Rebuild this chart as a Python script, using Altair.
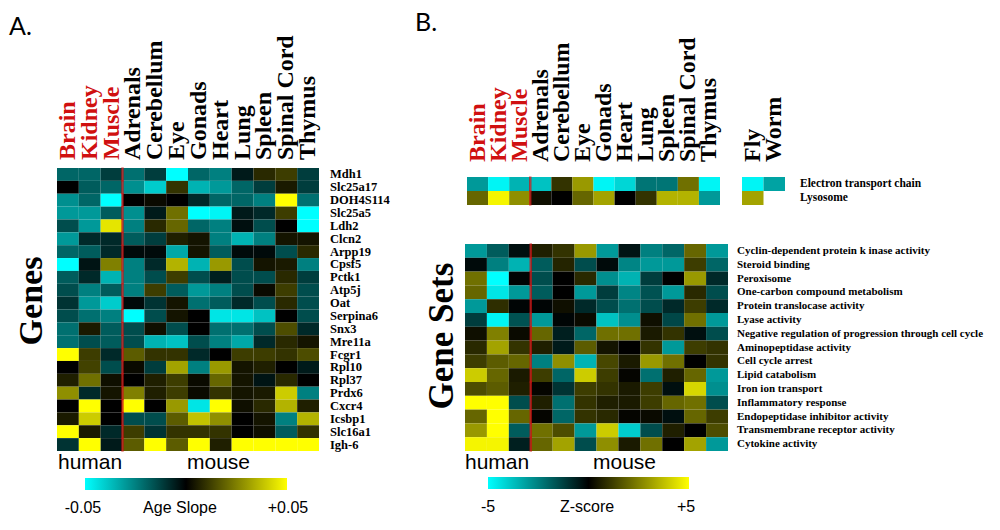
import altair as alt
import pandas as pd

# ---------------- data ----------------
tissues = ["Brain", "Kidney", "Muscle", "Adrenals", "Cerebellum", "Eye", "Gonads",
           "Heart", "Lung", "Spleen", "Spinal Cord", "Thymus"]
human_tissues = ["Brain", "Kidney", "Muscle"]

genes = ["Mdh1", "Slc25a17", "DOH4S114", "Slc25a5", "Ldh2", "Clcn2", "Arpp19", "Cpsf5",
         "Pctk1", "Atp5j", "Oat", "Serpina6", "Snx3", "Mre11a", "Fcgr1", "Rpl10", "Rpl37",
         "Prdx6", "Cxcr4", "Icsbp1", "Slc16a1", "Igh-6"]

# age slope per gene (rows) and tissue (columns)
age_slope = [
    [-0.020, -0.020, -0.012, -0.022, -0.012, -0.050, -0.020, -0.025, -0.005, 0.008, 0.012, -0.012],
    [0.000, -0.018, -0.020, -0.028, -0.040, 0.010, -0.035, -0.030, -0.020, -0.012, 0.005, -0.012],
    [-0.028, -0.020, -0.050, 0.000, 0.002, 0.000, -0.008, -0.020, -0.020, -0.025, 0.050, -0.022],
    [-0.030, -0.030, -0.018, -0.028, -0.005, 0.022, -0.050, -0.048, -0.005, -0.008, 0.012, -0.050],
    [-0.015, -0.030, 0.045, -0.025, 0.008, 0.020, -0.020, -0.025, -0.003, -0.015, 0.000, -0.050],
    [-0.030, -0.008, -0.008, -0.018, -0.012, 0.006, 0.004, -0.025, -0.035, -0.025, 0.004, 0.004],
    [-0.020, -0.018, -0.008, -0.002, -0.002, -0.033, 0.004, -0.018, -0.002, -0.002, -0.015, 0.008],
    [-0.050, -0.004, 0.025, -0.025, -0.008, 0.035, -0.035, 0.030, -0.015, 0.004, 0.005, -0.025],
    [-0.018, -0.008, -0.035, -0.025, -0.015, 0.012, -0.015, -0.006, -0.015, -0.015, 0.008, -0.012],
    [-0.015, -0.025, -0.018, -0.025, 0.012, -0.018, -0.030, -0.025, -0.015, 0.002, 0.012, -0.015],
    [-0.010, -0.030, -0.040, -0.002, -0.010, 0.004, -0.022, -0.018, -0.008, -0.015, 0.008, -0.015],
    [-0.015, -0.022, -0.025, -0.050, -0.015, 0.004, 0.000, -0.045, -0.045, -0.038, 0.000, -0.015],
    [-0.022, 0.005, -0.018, -0.015, 0.003, -0.015, 0.000, -0.022, -0.022, -0.015, 0.015, -0.008],
    [-0.022, -0.015, -0.018, -0.015, -0.035, -0.038, -0.015, -0.025, -0.033, -0.008, 0.008, 0.004],
    [0.050, 0.012, -0.008, 0.018, 0.010, 0.010, -0.008, 0.000, 0.012, 0.012, 0.010, 0.015],
    [0.000, 0.013, -0.015, 0.002, -0.012, 0.032, -0.025, 0.030, 0.004, 0.006, 0.000, -0.005],
    [0.006, 0.022, 0.003, 0.000, 0.006, 0.012, 0.002, 0.020, 0.004, -0.004, 0.008, 0.000],
    [0.028, -0.008, 0.004, 0.025, 0.006, 0.012, 0.002, 0.010, 0.004, 0.005, 0.040, -0.025],
    [0.000, 0.050, 0.000, 0.050, 0.000, 0.030, -0.045, 0.050, 0.003, 0.008, 0.035, 0.006],
    [0.005, 0.040, 0.000, -0.015, -0.015, 0.018, 0.038, 0.028, 0.000, 0.004, -0.025, 0.035],
    [0.050, 0.005, -0.008, 0.012, -0.010, 0.010, 0.010, 0.010, 0.000, 0.003, -0.018, 0.010],
    [-0.010, 0.050, -0.005, 0.018, 0.050, 0.018, 0.050, 0.006, 0.050, 0.050, 0.050, 0.050],
]

top_sets = ["Electron transport chain", "Lysosome"]
z_top = [
    [-3.0, -4.8, -3.5, -3.8, 1.0, 3.0, -4.8, -4.2, -2.3, -2.3, 2.2, -4.8],
    [2.0, 4.8, 2.8, 0.3, 0.0, 2.0, 3.2, 0.0, 1.0, 3.5, 3.5, -3.0],
]
species = ["Fly", "Worm"]
z_species = [
    [-4.8, -3.2],
    [3.2, None],
]

gene_sets = ["Cyclin-dependent protein k inase activity", "Steroid binding", "Peroxisome",
             "One-carbon compound metabolism", "Protein translocase activity", "Lyase activity",
             "Negative regulation of progression through cell cycle", "Aminopeptidase activity",
             "Cell cycle arrest", "Lipid catabolism", "Iron ion transport", "Inflammatory response",
             "Endopeptidase inhibitor activity", "Transmembrane receptor activity", "Cytokine activity"]
z_sets = [
    [-3.0, -1.8, -0.3, 0.6, 1.0, 3.0, -3.0, -0.4, -2.5, -2.0, 2.0, -3.0],
    [-0.2, -2.5, -3.5, -1.8, 0.7, -1.5, -0.2, -2.6, -3.0, -3.0, 1.2, -2.0],
    [2.2, -5.0, -0.1, -1.5, 0.0, 0.8, -2.8, -3.5, -1.2, 0.0, 3.0, -0.8],
    [2.0, -4.5, -3.0, -1.8, 0.0, -3.0, -1.2, -2.6, -1.6, -3.0, 0.8, -1.5],
    [-3.0, 0.9, -0.1, -0.1, 0.3, -0.8, -1.5, -2.2, -1.5, -0.8, 1.2, -0.8],
    [-1.2, -4.8, -1.6, -3.0, -0.1, 0.2, -3.8, -2.8, 0.3, -1.4, 2.2, -3.0],
    [0.3, 2.5, 0.2, 2.0, -0.6, -2.0, 2.2, 2.2, 0.5, 1.0, -0.3, -1.5],
    [0.8, 3.2, 1.0, 0.6, -0.5, 1.8, 0.4, 0.0, 1.0, -3.0, 1.2, 1.0],
    [1.2, 1.8, 2.0, -2.5, 2.8, -3.5, 1.4, 0.5, 3.0, 2.2, 0.0, 1.0],
    [4.0, 2.0, 0.5, 1.2, -2.0, 4.0, 1.2, 0.1, -2.2, 0.6, 2.0, -3.0],
    [1.5, 1.8, 0.6, 0.1, -1.0, 1.2, 1.0, 0.5, 1.2, -0.3, 4.2, -2.8],
    [5.0, 5.0, -1.5, 0.6, -2.2, 1.0, 0.6, 0.5, 1.2, 2.0, 2.2, -1.5],
    [2.0, 5.0, 2.0, 0.1, -2.0, 1.0, 0.8, 0.1, 0.2, -0.3, 2.0, 1.2],
    [3.0, 5.0, -1.8, 2.2, 1.5, -3.0, 4.0, -4.0, -1.5, 0.6, 0.0, 1.5],
    [4.8, 4.8, -0.6, 2.0, 3.2, -1.5, 2.8, 0.5, 2.2, 0.0, 3.2, -3.0],
]

slope_ticks = ["-0.05", "Age Slope", "+0.05"]
z_ticks = ["-5", "Z-score", "+5"]

# ---------------- styling ----------------
CYAN, BLACK, YELLOW = "#00ffff", "#000000", "#ffff00"
RED = "#d01010"
SERIF = "Liberation Serif"
SANS = "Liberation Sans"

# plot-area regions (chart pixels) for each heat map
A_X, A_Y = [49, 311], [160, 443]
BT_X, BT_Y = [459, 712], [169, 197]
SP_X = [734, 777]
BB_X, BB_Y = [457, 720], [236, 443]


def band(domain, rng):
    return alt.Scale(domain=domain, range=rng, paddingInner=0, paddingOuter=0)


def long_table(rows, cols, values, rname, cname):
    recs = []
    for r, row in zip(rows, values):
        for c, v in zip(cols, row):
            if v is not None:
                recs.append({rname: r, cname: c, "v": v})
    return pd.DataFrame(recs)


def heat(df, rname, cname, xs, ys, cscale, legend):
    return alt.Chart(df).mark_rect().encode(
        x=alt.X(f"{cname}:N", scale=xs, axis=None),
        y=alt.Y(f"{rname}:N", scale=ys, axis=None),
        color=alt.Color("v:Q", scale=cscale, legend=legend),
    )


def col_labels(cols, xs, y, red):
    df = pd.DataFrame({"c": cols, "grp": ["h" if c in red else "m" for c in cols]})
    return alt.Chart(df).mark_text(angle=270, align="left", baseline="middle", font=SERIF,
                                   fontWeight="bold", fontSize=24).encode(
        x=alt.X("c:N", scale=xs, axis=None),
        y=alt.value(y),
        text="c:N",
        color=alt.condition(alt.datum.grp == "h", alt.value(RED), alt.value("black")),
    )


def row_labels(rows, ys, x, size):
    df = pd.DataFrame({"r": rows})
    return alt.Chart(df).mark_text(align="left", baseline="middle", font=SERIF,
                                   fontWeight="bold", fontSize=size, color="black").encode(
        y=alt.Y("r:N", scale=ys, axis=None),
        x=alt.value(x),
        text="r:N",
    )


def red_line(rows, xs, ys, size):
    df = pd.DataFrame({"r": rows, "c": ["Adrenals"] * len(rows)})
    return alt.Chart(df).mark_tick(orient="vertical", color=RED, thickness=2.5, size=size).encode(
        x=alt.X("c:N", scale=xs, axis=None, bandPosition=0),
        y=alt.Y("r:N", scale=ys, axis=None),
    )


def note(text, x, y, **kw):
    return alt.Chart(pd.DataFrame({"t": [text]})).mark_text(**kw).encode(
        x=alt.value(x), y=alt.value(y), text="t:N")


def legend(lx, ly, length):
    return alt.Legend(orient="none", legendX=lx, legendY=ly, direction="horizontal",
                      gradientLength=length, gradientThickness=12, title=None,
                      labelExpr="''", labelFontSize=1, padding=0, gradientStrokeWidth=0)


def scale_texts(texts, xs, y):
    return [note(t, x, y, font=SANS, fontSize=16, align="center", baseline="middle", color="black")
            for t, x in zip(texts, xs)]


slope_scale = alt.Scale(domain=[-0.05, 0, 0.05], range=[CYAN, BLACK, YELLOW], interpolate="rgb", clamp=True)
z_scale = alt.Scale(domain=[-5, 0, 5], range=[CYAN, BLACK, YELLOW], interpolate="rgb", clamp=True)

# ---------------- panel A ----------------
dfA = long_table(genes, tissues, age_slope, "g", "t")
heatA = heat(dfA, "g", "t", band(tissues, A_X), band(genes, A_Y), slope_scale, legend(77, 470, 202))

# ---------------- panel B ----------------
dfBT = long_table(top_sets, tissues, z_top, "g", "t")
dfSP = long_table(top_sets, species, z_species, "g", "t")
dfBB = long_table(gene_sets, tissues, z_sets, "g", "t")
heatBT = heat(dfBT, "g", "t", band(tissues, BT_X), band(top_sets, BT_Y), z_scale, None)
heatSP = heat(dfSP, "g", "t", band(species, SP_X), band(top_sets, BT_Y), z_scale, None)
heatBB = heat(dfBB, "g", "t", band(tissues, BB_X), band(gene_sets, BB_Y), z_scale, legend(480, 469, 201))

layers = [
    heatA,
    red_line(genes, band(tissues, A_X), band(genes, A_Y), 14),
    col_labels(tissues, band(tissues, A_X), 152, human_tissues),
    row_labels(genes, band(genes, A_Y), 322, 12.5),
    heatBT,
    red_line(top_sets, band(tissues, BT_X), band(top_sets, BT_Y), 15),
    heatSP,
    col_labels(tissues, band(tissues, BT_X), 154, human_tissues),
    col_labels(species, band(species, SP_X), 154, []),
    row_labels(top_sets, band(top_sets, BT_Y), 792, 11.5),
    heatBB,
    red_line(gene_sets, band(tissues, BB_X), band(gene_sets, BB_Y), 15),
    row_labels(gene_sets, band(gene_sets, BB_Y), 729, 11),
    note("A.", 1, 27, font="Lato", fontSize=25, align="left", baseline="alphabetic"),
    note("B.", 407, 23, font="Lato", fontSize=25, align="left", baseline="alphabetic"),
    note("Genes", 24, 293, font=SERIF, fontWeight="bold", fontSize=34, angle=270,
         align="center", baseline="middle"),
    note("Gene Sets", 434, 328, font=SERIF, fontWeight="bold", fontSize=35, angle=270,
         align="center", baseline="middle"),
    note("human", 50, 455, font=SANS, fontSize=21, align="left", baseline="middle"),
    note("mouse", 179, 455, font=SANS, fontSize=21, align="left", baseline="middle"),
    note("human", 457, 455, font=SANS, fontSize=21, align="left", baseline="middle"),
    note("mouse", 585, 455, font=SANS, fontSize=21, align="left", baseline="middle"),
]
layers += scale_texts(slope_ticks, [75, 172, 280], 500)
layers += scale_texts(z_ticks, [480, 579, 678], 499)

chart = alt.layer(*layers).resolve_scale(
    x="independent", y="independent", color="independent"
).properties(
    width=984, height=514, padding=0, autosize=alt.AutoSizeParams(type="none")
).configure_view(strokeWidth=0)

chart.save("out.html", embed_options={"renderer": "svg", "actions": False})
